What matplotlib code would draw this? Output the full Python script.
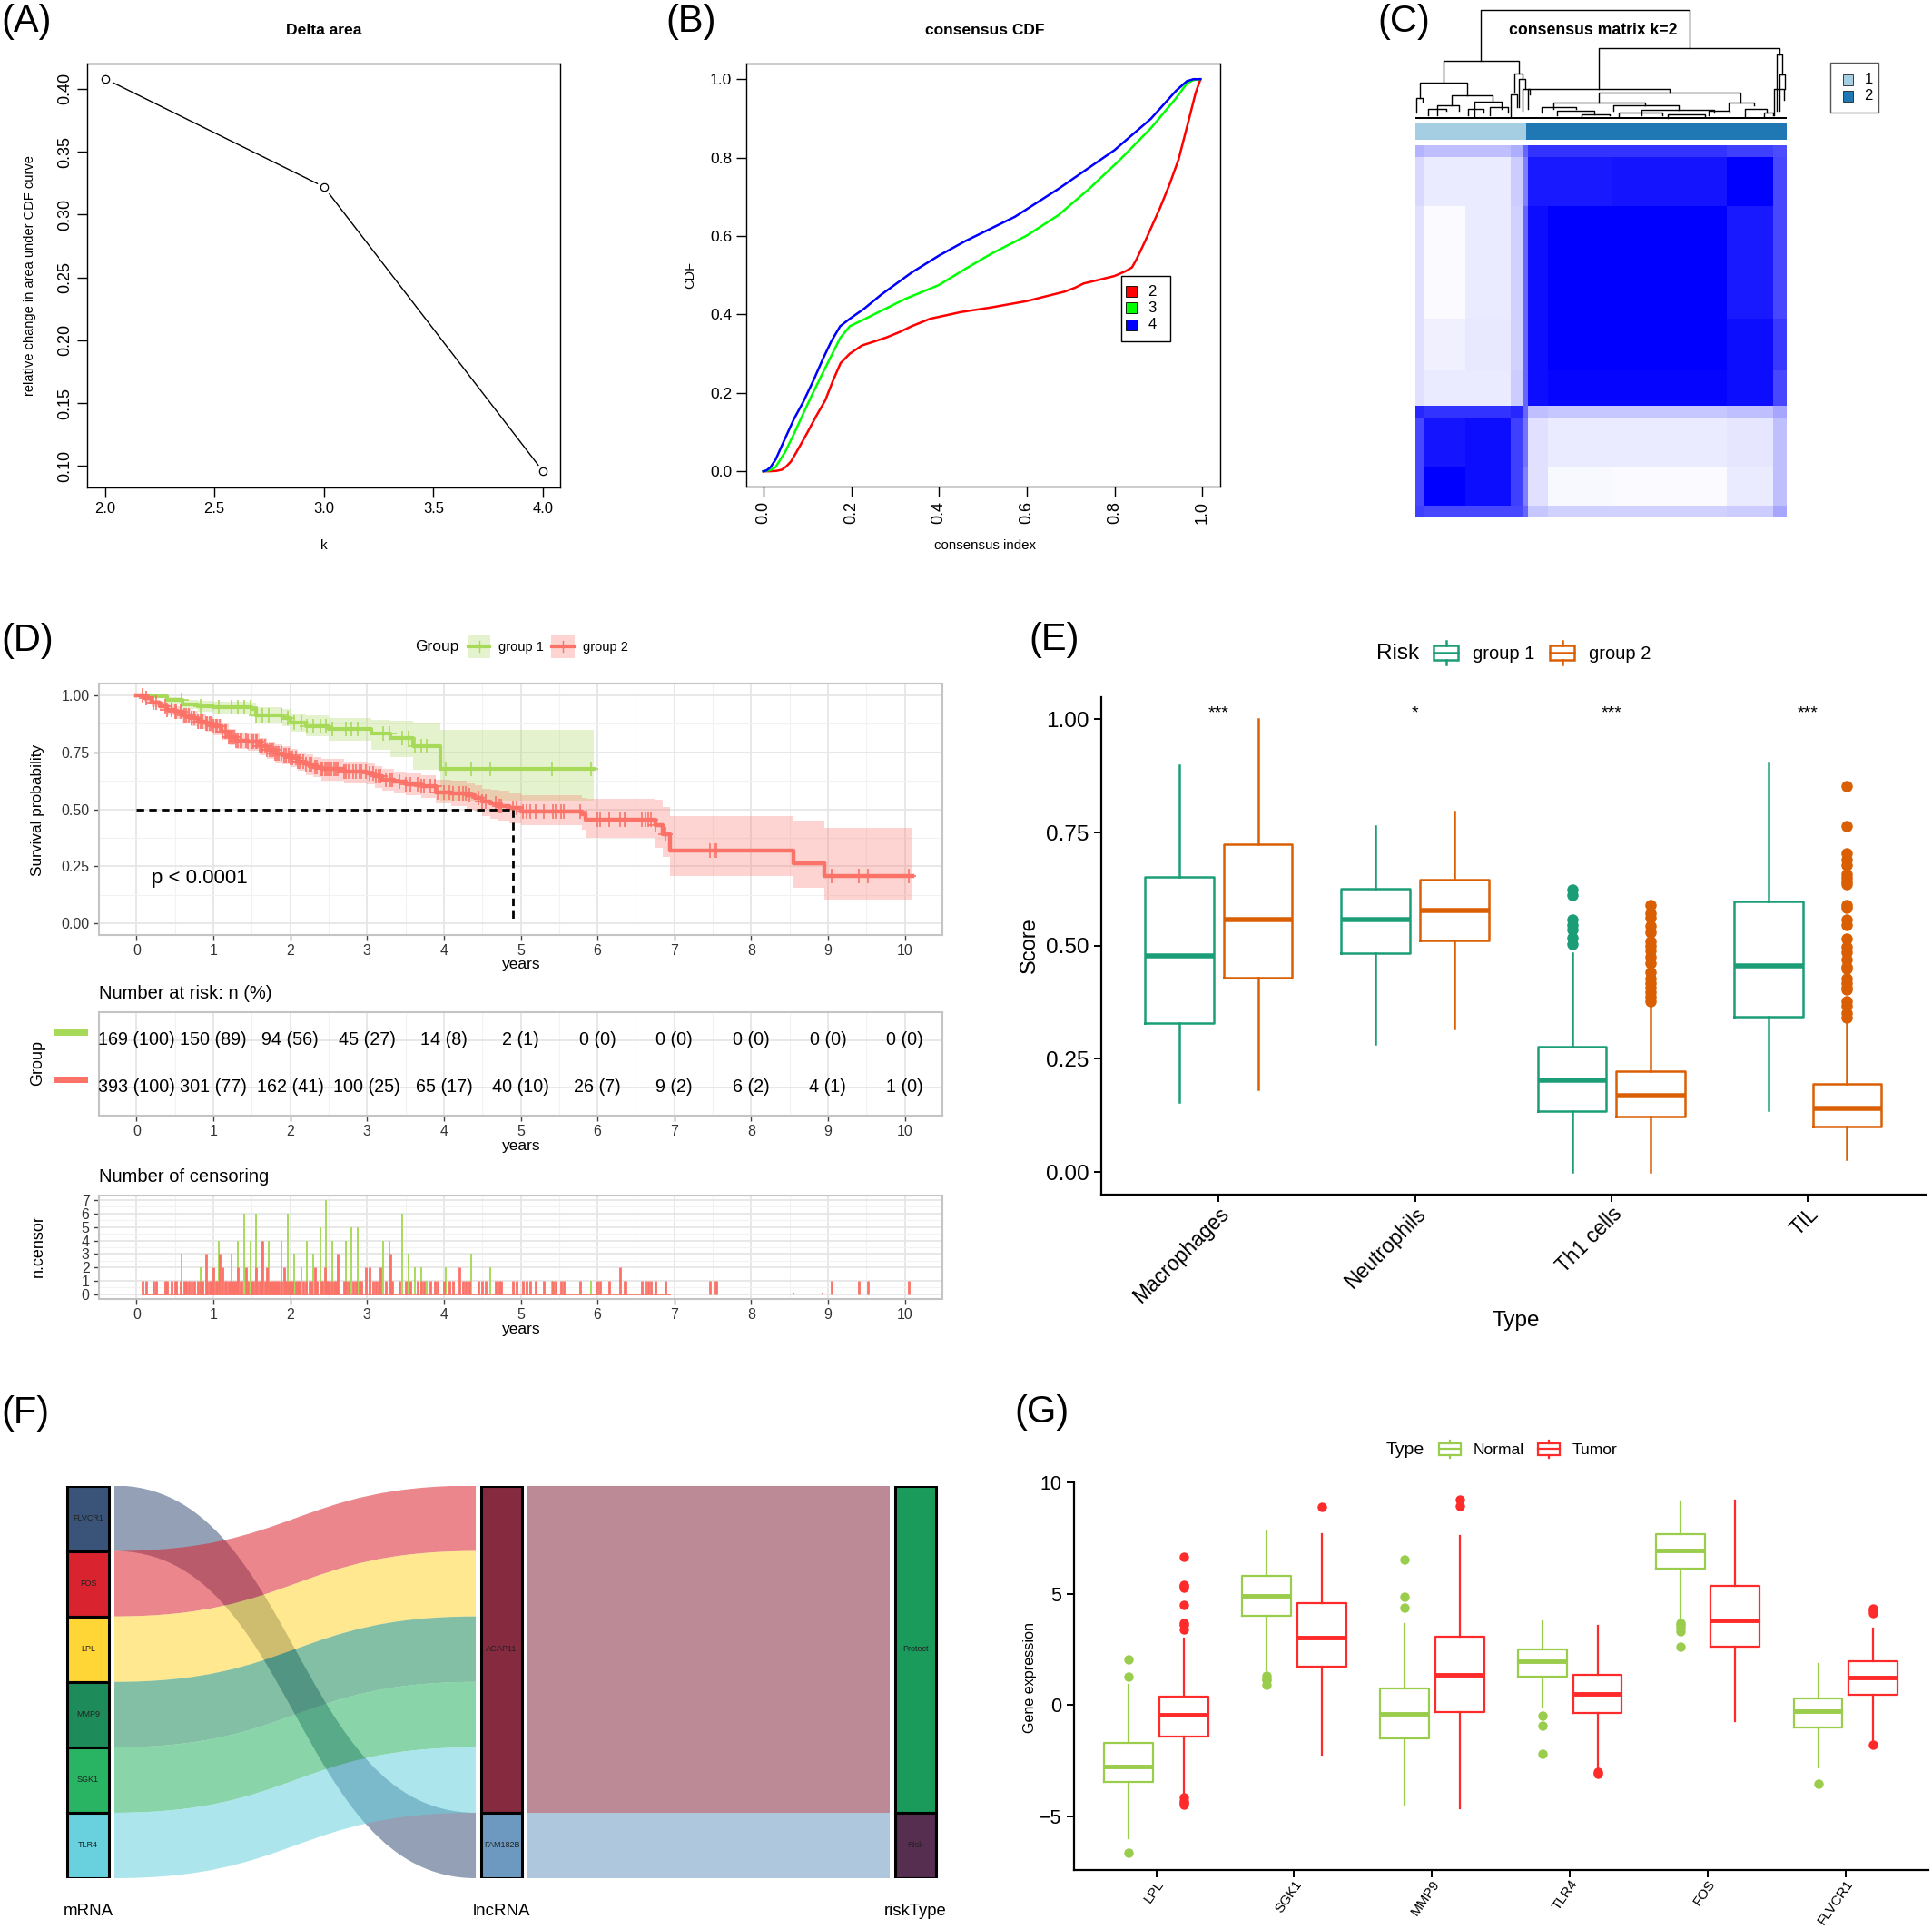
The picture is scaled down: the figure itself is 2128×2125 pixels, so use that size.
import numpy as np
import matplotlib
matplotlib.use("Agg")
import matplotlib.pyplot as plt
from matplotlib.colors import LinearSegmentedColormap
from matplotlib.path import Path
from matplotlib.patches import PathPatch, Rectangle

W, H = 2128, 2125
plt.rcParams["font.family"] = ["Liberation Sans"]

# (A) delta area
k_vals = [2, 3, 4]
delta_vals = [0.408, 0.322, 0.096]

# (B) consensus CDF
cdf_x2 = [0.0, 0.014, 0.03, 0.042, 0.052, 0.063, 0.08, 0.099, 0.12, 0.141, 0.16, 0.176, 0.197, 0.225, 0.25, 0.282, 0.31, 0.338, 0.38, 0.45, 0.52, 0.6, 0.686, 0.71, 0.73, 0.76, 0.8, 0.825, 0.84, 0.85, 0.87, 0.904, 0.925, 0.946, 0.968, 0.985, 0.996]
cdf_y2 = [0.0, 0.0, 0.001, 0.004, 0.012, 0.025, 0.058, 0.096, 0.14, 0.181, 0.235, 0.276, 0.30, 0.321, 0.33, 0.342, 0.355, 0.37, 0.389, 0.406, 0.418, 0.434, 0.458, 0.468, 0.479, 0.487, 0.498, 0.51, 0.52, 0.54, 0.587, 0.672, 0.73, 0.795, 0.89, 0.965, 1.0]
cdf_x3 = [0.0, 0.007, 0.016, 0.028, 0.05, 0.07, 0.09, 0.113, 0.135, 0.155, 0.175, 0.197, 0.225, 0.27, 0.324, 0.4, 0.46, 0.518, 0.6, 0.672, 0.742, 0.813, 0.883, 0.94, 0.965, 0.98, 0.996]
cdf_y3 = [0.0, 0.001, 0.003, 0.011, 0.05, 0.096, 0.145, 0.2, 0.25, 0.295, 0.34, 0.37, 0.385, 0.41, 0.44, 0.475, 0.516, 0.554, 0.601, 0.653, 0.72, 0.795, 0.875, 0.951, 0.989, 0.998, 1.0]
cdf_x4 = [0.0, 0.007, 0.016, 0.028, 0.05, 0.07, 0.09, 0.113, 0.135, 0.155, 0.175, 0.197, 0.23, 0.268, 0.338, 0.4, 0.46, 0.573, 0.672, 0.8, 0.883, 0.94, 0.965, 0.98, 0.996]
cdf_y4 = [0.0, 0.002, 0.01, 0.03, 0.085, 0.134, 0.175, 0.229, 0.285, 0.332, 0.37, 0.389, 0.415, 0.45, 0.507, 0.55, 0.587, 0.649, 0.72, 0.819, 0.899, 0.97, 0.995, 1.0, 1.0]

# (C) consensus matrix, blocks of samples
block_cols = [16, 65, 75, 20, 7, 33, 105, 185, 75, 22]
block_rows = [32, 130, 305, 140, 95, 35, 130, 105, 28]
block_vals = [
    [.30, .25, .25, .32, .60, .80, .80, .80, .75, .70],
    [.15, .08, .08, .20, .50, .90, .90, .92, 1.0, .72],
    [.12, .02, .08, .18, .60, .95, 1.0, 1.0, .90, .72],
    [.12, .06, .09, .18, .60, .95, 1.0, 1.0, .95, .78],
    [.12, .08, .08, .20, .60, .95, .98, .98, .95, .72],
    [.85, .80, .80, .85, .60, .25, .22, .22, .25, .35],
    [.72, .92, .95, .75, .55, .12, .08, .08, .10, .25],
    [.72, 1.0, .95, .75, .50, .12, .03, .02, .08, .25],
    [.75, .72, .72, .72, .60, .22, .18, .18, .20, .35],
]
cluster_sizes = [181, 422]
# left, right, height, left child height, right child height
dendro_links = [
    (836, 1174, 28, 163, 130), (775, 897, 163, 222, 198), (737, 814, 222, 265, 258),
    (789, 855, 258, 285, 275), (1028, 1320, 130, 240, 148), (913, 1143, 240, 295, 250),
    (1028, 1258, 250, 278, 278), (953, 1103, 278, 295, 285), (1238, 1280, 278, 296, 285),
    (1051, 1157, 285, 300, 297), (1097, 1215, 297, 310, 303), (935, 990, 290, 305, 295),
    (890, 903, 198, 250, 212), (898, 908, 212, 290, 240), (904, 915, 240, 300, 255),
    (1316, 1325, 148, 300, 200), (1320, 1330, 200, 300, 240), (1312, 1328, 240, 310, 270),
    (731, 742, 265, 305, 275), (750, 780, 295, 310, 300), (765, 800, 285, 310, 300),
    (815, 840, 295, 310, 305), (825, 870, 275, 315, 295), (850, 880, 290, 312, 305),
    (885, 895, 255, 315, 290), (1205, 1240, 300, 312, 305), (1265, 1300, 295, 315, 305),
    (1295, 1310, 305, 316, 310), (960, 1020, 300, 312, 308), (1000, 1045, 308, 316, 312),
    (1060, 1130, 305, 316, 312), (1140, 1200, 308, 318, 314),
]

# (D) survival
km1_t = [0, 0.2, 0.4, 0.6, 0.8, 1.0, 1.5, 1.55, 1.9, 2.0, 2.2, 2.5, 3.05, 3.3, 3.6, 3.95, 5.95]
km1_s = [1, 0.995, 0.98, 0.96, 0.95, 0.945, 0.94, 0.91, 0.90, 0.88, 0.865, 0.85, 0.83, 0.81, 0.775, 0.675, 0.675]
km1_hi = [1, 1, 0.99, 0.98, 0.975, 0.97, 0.965, 0.945, 0.94, 0.92, 0.91, 0.90, 0.89, 0.888, 0.878, 0.846, 0.846]
km1_lo = [1, 0.985, 0.96, 0.94, 0.925, 0.915, 0.905, 0.875, 0.865, 0.84, 0.82, 0.80, 0.76, 0.728, 0.674, 0.537, 0.537]
km2_t = [0, .1, .2, .3, .4, .5, .6, .7, .8, .9, 1, 1.1, 1.2, 1.3, 1.45, 1.6, 1.7, 1.8, 1.9, 2, 2.1, 2.2, 2.3, 2.4, 2.7, 3, 3.1, 3.2, 3.35, 3.5, 3.7, 3.9, 4.1, 4.3, 4.4, 4.5, 4.6, 4.7, 4.85, 5, 5.8, 5.85, 6.75, 6.85, 6.95, 8.55, 8.95, 10.1]
km2_s = [1, .985, .965, .95, .935, .925, .91, .90, .885, .875, .862, .84, .815, .80, .795, .775, .76, .745, .735, .725, .71, .695, .685, .675, .665, .655, .645, .63, .62, .61, .60, .575, .57, .56, .55, .535, .525, .515, .505, .49, .48, .455, .43, .39, .32, .265, .21, .21]
km2_hi = [1, .995, .98, .97, .96, .95, .94, .93, .915, .905, .895, .875, .85, .835, .83, .81, .795, .785, .775, .765, .75, .74, .73, .72, .71, .70, .69, .675, .665, .655, .65, .63, .625, .615, .605, .59, .585, .58, .57, .56, .55, .545, .54, .51, .47, .45, .42, .42]
km2_lo = [1, .97, .945, .93, .91, .895, .88, .865, .85, .84, .825, .805, .78, .765, .755, .735, .72, .705, .695, .685, .67, .65, .64, .625, .615, .61, .595, .58, .57, .56, .55, .525, .515, .50, .485, .47, .46, .45, .44, .43, .41, .375, .33, .29, .21, .155, .105, .105]
median_time = 4.9
risk_times = [0, 1, 2, 3, 4, 5, 6, 7, 8, 9, 10]
risk_group1 = ["169 (100)", "150 (89)", "94 (56)", "45 (27)", "14 (8)", "2 (1)", "0 (0)", "0 (0)", "0 (0)", "0 (0)", "0 (0)"]
risk_group2 = ["393 (100)", "301 (77)", "162 (41)", "100 (25)", "65 (17)", "40 (10)", "26 (7)", "9 (2)", "6 (2)", "4 (1)", "1 (0)"]

cens1_t = [0.58, 0.83, 1.07, 1.23, 1.32, 1.4, 1.48, 1.56, 1.64, 1.72, 1.89, 1.97, 2.05, 2.14, 2.22, 2.3, 2.39, 2.47, 2.55, 2.72, 2.8, 2.88, 3.21, 3.29, 3.46, 3.54, 3.62, 3.7, 3.78, 4.03, 4.36, 4.6, 5.41, 5.92]
cens1_n = [3, 2, 4, 3, 4, 6, 4, 6, 4, 4, 4, 6, 3, 2, 4, 3, 5, 7, 4, 4, 5, 5, 4, 4, 6, 3, 2, 2, 1, 2, 3, 2, 1, 1]
cens2_t = [0.08, 0.12, 0.22, 0.26, 0.37, 0.4, 0.45, 0.5, 0.52, 0.57, 0.62, 0.65, 0.68, 0.72, 0.75, 0.8, 0.83, 0.86, 0.9, 0.92, 0.95, 0.98, 1.0, 1.03, 1.05, 1.08, 1.12, 1.15, 1.17, 1.2, 1.22, 1.25, 1.27, 1.3, 1.32, 1.35, 1.37, 1.42, 1.45, 1.5, 1.52, 1.55, 1.57, 1.6, 1.62, 1.64, 1.67, 1.7, 1.73, 1.75, 1.78, 1.8, 1.83, 1.85, 1.88, 1.92, 1.95, 1.98, 2.0, 2.03, 2.07, 2.1, 2.12, 2.17, 2.2, 2.25, 2.28, 2.32, 2.35, 2.4, 2.42, 2.45, 2.48, 2.5, 2.53, 2.57, 2.6, 2.62, 2.7, 2.73, 2.76, 2.82, 2.85, 2.9, 2.93, 2.98, 3.03, 3.08, 3.12, 3.15, 3.17, 3.25, 3.3, 3.33, 3.42, 3.5, 3.56, 3.66, 3.7, 3.74, 3.82, 3.88, 3.92, 4.0, 4.07, 4.12, 4.2, 4.25, 4.28, 4.33, 4.45, 4.5, 4.55, 4.68, 4.72, 4.75, 4.9, 4.95, 5.03, 5.08, 5.13, 5.2, 5.3, 5.42, 5.46, 5.53, 5.56, 5.77, 6.0, 6.03, 6.15, 6.3, 6.35, 6.37, 6.58, 6.62, 6.66, 6.7, 6.75, 6.88, 7.47, 7.52, 7.55, 9.05, 9.4, 9.52, 10.05]
cens2_big = {0.9: 3, 1.0: 2, 1.08: 3, 1.12: 2, 1.32: 2, 1.42: 2, 1.55: 2, 1.64: 4, 1.7: 2, 1.92: 2, 2.32: 2, 2.45: 2, 2.62: 3, 2.98: 2, 3.03: 2, 3.17: 2, 3.3: 3, 4.2: 2, 6.3: 2}

# (E) score boxes
score_types = ["Macrophages", "Neutrophils", "Th1 cells", "TIL"]
score_sig = ["***", "*", "***", "***"]
# whisker low, q1, median, q3, whisker high
score_g1 = [[.155, .33, .477, .651, .898], [.283, .484, .557, .625, .764], [0, .135, .202, .276, .483], [.136, .343, .456, .597, .904]]
score_g2 = [[.182, .43, .557, .725, 1.0], [.316, .511, .578, .645, .797], [0, .122, .168, .222, .367], [.028, .101, .141, .195, .336]]
score_out1 = [[], [], [.624, .611, .557, .545, .535, .518, .504], []]
score_out2 = [[], [], [.377, .387, .398, .408, .418, .428, .441, .462, .476, .49, .5, .51, .53, .544, .561, .571, .589],
              [.853, .765, .704, .691, .678, .658, .65, .642, .635, .59, .583, .557, .545, .516, .497, .485, .47, .454, .449, .428, .418, .408, .403, .377, .367, .351, .341]]

# (F) alluvial
mrna_names = ["FLVCR1", "FOS", "LPL", "MMP9", "SGK1", "TLR4"]
mrna_colors = ["#3A5378", "#D9232E", "#FFD635", "#1E8C5A", "#28B463", "#68D1DD"]
mrna_lnc = ["FAM182B", "AGAP11", "AGAP11", "AGAP11", "AGAP11", "AGAP11"]
lnc_names = ["AGAP11", "FAM182B"]
lnc_colors = ["#862A40", "#6D99C0"]
risk_names = ["Protect", "Risk"]
risk_colors = ["#1A9B5B", "#552E50"]

# (G) gene expression boxes
genes = ["LPL", "SGK1", "MMP9", "TLR4", "FOS", "FLVCR1"]
gene_normal = [[-6.01, -3.47, -2.77, -1.71, .89], [1.56, 3.99, 4.89, 5.79, 7.79], [-4.5, -1.5, -.42, .76, 3.64], [-.09, 1.29, 1.96, 2.49, 3.77], [3.8, 6.11, 6.96, 7.69, 9.16], [-2.8, -1.0, -.26, .28, 1.85]]
gene_tumor = [[-4.05, -1.43, -.44, .37, 2.99], [-2.24, 1.71, 3.04, 4.56, 7.66], [-4.63, -.31, 1.37, 3.07, 7.6], [-2.82, -.36, .48, 1.37, 3.54], [-.72, 2.6, 3.82, 5.36, 9.19], [-1.6, .47, 1.25, 1.95, 3.43]]
gene_out_n = [[-6.65, 1.26, 2.06], [1.31, 1.2, 1.09, .89], [4.39, 4.86, 6.54], [-.47, -.93, -2.18], [3.69, 3.58, 3.46, 3.3, 2.62], [-3.54]]
gene_out_t = [[6.65, 5.4, 5.33, 5.28, 4.49, 3.69, 3.58, 3.38, -4.17, -4.3, -4.41, -4.49], [8.88], [8.94, 9.24], [-3.0, -3.08], [], [-1.78, 4.31, 4.24, 4.14]]

GREEN_KM = "#A8DA5A"
RED_KM = "#FB7268"
TEAL = "#1B9E77"
ORANGE = "#D95F02"
G_GREEN = "#9ACD4C"
G_RED = "#FF2A2A"

fig = plt.figure(figsize=(W / 100, H / 100), dpi=100)


def px_axes(x0, y0, x1, y1):
    return fig.add_axes([x0 / W, 1 - y1 / H, (x1 - x0) / W, (y1 - y0) / H])


# overlay in pixels for legends and free text
over = fig.add_axes([0, 0, 1, 1], zorder=20)
over.set_xlim(0, W)
over.set_ylim(H, 0)
over.axis("off")
over.patch.set_alpha(0)


def label(x, y, s, size=14, ha="center", rot=0, weight="normal"):
    over.text(x, y, s, fontsize=size, ha=ha, va="center", rotation=rot, fontweight=weight)


for s, x, y in [("(A)", 1, 24), ("(B)", 733, 24), ("(C)", 1517, 24), ("(D)", 1, 706), ("(E)", 1133, 705), ("(F)", 1, 1557), ("(G)", 1117, 1556)]:
    label(x, y, s, size=30, ha="left")


def r_style(ax):
    for sp in ax.spines.values():
        sp.set_linewidth(1.0)
    ax.tick_params(length=8, width=1.0)


# ---- A
ax = px_axes(96, 70, 617, 537)
ax.plot(k_vals, delta_vals, color="black", lw=1.0)
ax.plot(k_vals, delta_vals, "o", ms=11, mfc="white", mec="white")
ax.plot(k_vals, delta_vals, "o", ms=6, mfc="white", mec="black", mew=0.9)
ax.set_xlim(1.919, 4.079)
ax.set_ylim(0.083, 0.42)
ax.set_xticks([2, 2.5, 3, 3.5, 4])
ax.set_xticklabels(["2.0", "2.5", "3.0", "3.5", "4.0"], fontsize=12)
ax.set_yticks([.1, .15, .2, .25, .3, .35, .4])
ax.set_yticklabels(["0.10", "0.15", "0.20", "0.25", "0.30", "0.35", "0.40"], rotation=90, va="center", fontsize=13)
r_style(ax)
label(357, 34, "Delta area", size=12.6, weight="bold")
label(357, 601, "k", size=11)
label(33, 304, "relative change in area under CDF curve", size=10.5, rot=90)

# ---- B
ax = px_axes(822, 69.5, 1344, 536)
ax.plot(cdf_x2, cdf_y2, color="#FF0000", lw=1.8)
ax.plot(cdf_x3, cdf_y3, color="#00FF00", lw=1.8)
ax.plot(cdf_x4, cdf_y4, color="#0000FF", lw=1.8)
ax.set_xlim(-.039, 1.041)
ax.set_ylim(-.039, 1.041)
ax.set_xticks([0, .2, .4, .6, .8, 1])
ax.set_xticklabels(["0.0", "0.2", "0.4", "0.6", "0.8", "1.0"], rotation=90, fontsize=13)
ax.set_yticks([0, .2, .4, .6, .8, 1])
ax.set_yticklabels(["0.0", "0.2", "0.4", "0.6", "0.8", "1.0"], fontsize=12.5)
r_style(ax)
label(1085, 34, "consensus CDF", size=12.5, weight="bold")
label(1085, 601, "consensus index", size=10.8)
label(760, 303, "CDF", size=10.5, rot=90)
over.add_patch(Rectangle((1235, 304), 54, 72, fc="white", ec="black", lw=1))
for yy, cc, tt in [(321, "#FF0000", "2"), (339, "#00FF00", "3"), (357.5, "#0000FF", "4")]:
    over.add_patch(Rectangle((1240, yy - 6), 12, 12, fc=cc, ec="black", lw=0.6))
    label(1269, yy, tt, size=12)

# ---- C
blue_map = LinearSegmentedColormap.from_list("cons", ["white", "#0000FF"])
ax = px_axes(1558.6, 160.4, 1967.7, 568.6)
ax.pcolormesh(np.r_[0, np.cumsum(block_cols)], np.r_[0, np.cumsum(block_rows)], np.array(block_vals), cmap=blue_map, vmin=0, vmax=1)
ax.set_ylim(sum(block_rows), 0)
ax.axis("off")

ax = px_axes(1558.6, 136, 1967.7, 153.5)
left = 0
for size, col in zip(cluster_sizes, ["#A6CEE3", "#1F78B4"]):
    ax.barh(0, size, left=left, height=1, color=col)
    left += size
ax.set_xlim(0, sum(cluster_sizes))
ax.set_ylim(-.5, .5)
ax.axis("off")

ax = px_axes(1558.6, 11.4, 1967.7, 131)
for xl, xr, h, yl, yr in dendro_links:
    ax.plot([xl, xl, xr, xr], [yl, h, h, yr], color="black", lw=1.0, clip_on=False)
ax.fill_between([729, 1332], 316, 321, color="black", lw=0)
ax.set_xlim(729, 1332)
ax.set_ylim(321, 28)
ax.axis("off")
label(1755, 34, "consensus matrix k=2", size=12.7, weight="bold")
over.add_patch(Rectangle((2016, 69), 53, 55, fc="white", ec="#555555", lw=1))
for yy, cc, tt in [(88, "#A6CEE3", "1"), (106, "#1F78B4", "2")]:
    over.add_patch(Rectangle((2029.5, yy - 6), 11.5, 12, fc=cc, ec="#222222", lw=0.6))
    label(2058, yy, tt, size=12)


# ---- D
def km_theme(ax):
    ax.set_axisbelow(True)
    ax.set_xlim(-.49, 10.49)
    ax.set_xticks(risk_times)
    ax.set_xticks(np.array(risk_times[:-1]) + .5, minor=True)
    ax.grid(True, which="major", color="#E6E6E6", lw=1.3)
    ax.grid(True, which="minor", color="#F2F2F2", lw=0.8)
    ax.tick_params(which="minor", length=0)
    ax.tick_params(which="major", length=4, width=1, color="#444444", labelsize=11.5, labelcolor="#333333")
    for sp in ax.spines.values():
        sp.set_color("#C4C4C4")
        sp.set_linewidth(1.5)


def surv_at(times, t_arr, s_arr):
    idx = np.searchsorted(t_arr, times, side="right") - 1
    return np.array(s_arr)[idx]


ax = px_axes(109, 753, 1038, 1030)
km_theme(ax)
ax.fill_between(km1_t, km1_lo, km1_hi, step="post", color=GREEN_KM, alpha=.3, lw=0)
ax.fill_between(km2_t, km2_lo, km2_hi, step="post", color=RED_KM, alpha=.3, lw=0)
ax.step(km1_t, km1_s, where="post", color=GREEN_KM, lw=3)
ax.step(km2_t, km2_s, where="post", color=RED_KM, lw=3.2)
ax.plot(cens1_t, surv_at(cens1_t, km1_t, km1_s), "+", color=GREEN_KM, ms=11, mew=1.2)
ax.plot(cens2_t, surv_at(cens2_t, km2_t, km2_s), "+", color=RED_KM, ms=11, mew=1.2)
ax.plot([0, median_time], [.5, .5], color="black", lw=2, ls=(0, (3, 2)))
ax.plot([median_time, median_time], [.5, 0], color="black", lw=2, ls=(0, (3, 2)))
ax.set_ylim(-.05, 1.05)
ax.set_yticks([0, .25, .5, .75, 1])
ax.set_yticks([.125, .375, .625, .875], minor=True)
ax.set_yticklabels(["0.00", "0.25", "0.50", "0.75", "1.00"])
ax.text(.2, .2, "p < 0.0001", fontsize=16, va="center")
label(42, 892, "Survival probability", size=12.4, rot=90)
label(574, 1062, "years", size=12.5)

label(481, 713, "Group", size=12.5)
over.add_patch(Rectangle((515, 699), 25, 26, fc=GREEN_KM, alpha=.3, ec="none"))
over.plot([516, 539], [712, 712], color=GREEN_KM, lw=3)
over.plot([527.5, 527.5], [706, 718], color=GREEN_KM, lw=1)
label(549, 713, "group 1", size=10.5, ha="left")
over.add_patch(Rectangle((607, 699), 26, 26, fc=RED_KM, alpha=.3, ec="none"))
over.plot([608, 632], [712, 712], color=RED_KM, lw=3)
over.plot([620, 620], [706, 718], color=RED_KM, lw=1)
label(642, 713, "group 2", size=10.5, ha="left")

# risk table
ax = px_axes(109, 1115, 1038, 1228.5)
km_theme(ax)
ax.set_ylim(.413, 2.596)
ax.set_yticks([1, 2])
ax.set_yticklabels(["", ""])
ax.tick_params(axis="y", length=0)
for t, a, b in zip(risk_times, risk_group1, risk_group2):
    ax.text(t, 2, a, ha="center", va="center", fontsize=14.2)
    ax.text(t, 1, b, ha="center", va="center", fontsize=14.2)
label(109, 1095, "Number at risk: n (%)", size=14.5, ha="left")
label(574, 1262, "years", size=12.5)
label(42, 1171, "Group", size=13, rot=90)
over.add_patch(Rectangle((60, 1134), 37, 7, fc=GREEN_KM, ec="none"))
over.add_patch(Rectangle((60, 1186), 37, 7, fc=RED_KM, ec="none"))

# censoring
ax = px_axes(109, 1317, 1038, 1430.5)
km_theme(ax)
cens2_n = [cens2_big.get(t, 1) for t in cens2_t]
ax.vlines(cens1_t, 0, cens1_n, color=GREEN_KM, lw=1.4)
ax.vlines(cens2_t, 0, cens2_n, color=RED_KM, lw=2.0)
ax.plot([.08, 6.95], [0, 0], color=RED_KM, lw=1.2)
ax.vlines([8.55, 8.93], 0, .1, color=RED_KM, lw=1.5)
ax.set_ylim(-.317, 7.34)
ax.set_yticks(range(8))
ax.set_yticks(np.arange(7) + .5, minor=True)
label(109, 1297, "Number of censoring", size=14.5, ha="left")
label(574, 1464, "years", size=12.5)
label(42, 1373, "n.censor", size=13, rot=90)


# ---- boxes for E and G
def box_stats(rows, outliers):
    stats = []
    for r, o in zip(rows, outliers):
        stats.append(dict(whislo=r[0], q1=r[1], med=r[2], q3=r[3], whishi=r[4], fliers=o))
    return stats


def draw_boxes(ax, rows, outliers, positions, width, color, lw, ms):
    ax.bxp(box_stats(rows, outliers), positions=positions, widths=width, showcaps=False,
           manage_ticks=False,
           boxprops=dict(color=color, lw=lw), whiskerprops=dict(color=color, lw=lw),
           medianprops=dict(color=color, lw=lw * 2.2, solid_capstyle="butt"),
           flierprops=dict(marker="o", mfc=color, mec=color, ms=ms, mew=0))


def classic(ax):
    ax.spines["top"].set_visible(False)
    ax.spines["right"].set_visible(False)
    ax.spines["left"].set_linewidth(1.6)
    ax.spines["bottom"].set_linewidth(1.6)
    ax.tick_params(length=6, width=1.4)


ax = px_axes(1212.5, 768, 2121, 1316)
pos = np.arange(len(score_types))
draw_boxes(ax, score_g1, score_out1, pos - .2, .35, TEAL, 1.8, 9)
draw_boxes(ax, score_g2, score_out2, pos + .2, .35, ORANGE, 1.8, 9)
ax.set_xlim(-.6, 3.6)
ax.set_ylim(-.05, 1.049)
ax.set_xticks(pos)
ax.set_xticklabels(score_types, rotation=45, ha="right", rotation_mode="anchor", fontsize=16.5)
ax.set_yticks([0, .25, .5, .75, 1])
ax.set_yticklabels(["0.00", "0.25", "0.50", "0.75", "1.00"], fontsize=17.5)
classic(ax)
ax.tick_params(axis="x", pad=1)
for p, s in zip(pos, score_sig):
    ax.text(p, 1.012, s, ha="center", va="center", fontsize=14)
label(1670, 1455, "Type", size=17.5)
label(1134, 1041, "Score", size=17, rot=90)
label(1540, 720, "Risk", size=17.5)
for x0, cc, name, tx in [(1579, TEAL, "group 1", 1622), (1707, ORANGE, "group 2", 1750)]:
    over.add_patch(Rectangle((x0, 711), 27, 16, fc="white", ec=cc, lw=1.8))
    over.plot([x0, x0 + 27], [719, 719], color=cc, lw=1.8)
    over.plot([x0 + 13.5, x0 + 13.5], [706, 711], color=cc, lw=1.8)
    over.plot([x0 + 13.5, x0 + 13.5], [727, 732], color=cc, lw=1.8)
    label(tx, 720, name, size=14.5, ha="left")


# ---- F
def flow(ax, x0, x1, y0, y1, color):
    xm = (x0 + x1) / 2
    verts = [(x0, y0), (xm, y0), (xm, y1), (x1, y1), (x1, y1 + 1), (xm, y1 + 1), (xm, y0 + 1), (x0, y0 + 1), (x0, y0)]
    codes = [Path.MOVETO, Path.CURVE4, Path.CURVE4, Path.CURVE4, Path.LINETO, Path.CURVE4, Path.CURVE4, Path.CURVE4, Path.CLOSEPOLY]
    ax.add_patch(PathPatch(Path(verts, codes), fc=color, ec="none", alpha=.55))


def stratum(ax, cx, y0, h, color, name):
    ax.add_patch(Rectangle((cx - .0495, y0), .099, h, fc=color, ec="black", lw=2.2))
    ax.text(cx, y0 + h / 2, name, ha="center", va="center", fontsize=6.5, color="#222222")


ax = px_axes(60, 1636.5, 1046, 2069)
ax.set_xlim(-.0812, 2.083)
ax.set_ylim(len(mrna_names), 0)
ax.axis("off")

lnc_size = [mrna_lnc.count(n) for n in lnc_names]
lnc_top = [0, lnc_size[0]]
lnc_next = list(lnc_top)
for i, (gene, col, target) in enumerate(zip(mrna_names, mrna_colors, mrna_lnc)):
    j = lnc_names.index(target)
    flow(ax, .0637, .9374, i, lnc_next[j], col)
    lnc_next[j] += 1
    stratum(ax, 0, i, 1, col, gene)
for j, name in enumerate(lnc_names):
    ax.add_patch(Rectangle((1.0623, lnc_top[j]), .8762, lnc_size[j], fc=lnc_colors[j], ec="none", alpha=.55))
    stratum(ax, 1, lnc_top[j], lnc_size[j], lnc_colors[j], name)
    stratum(ax, 2, lnc_top[j], lnc_size[j], risk_colors[j], risk_names[j])
label(97, 2105, "mRNA", size=13.5)
label(553, 2105, "lncRNA", size=13.5)
label(1008, 2105, "riskType", size=13.3)

# ---- G
ax = px_axes(1182.7, 1633, 2124, 2059.8)
pos = np.arange(len(genes))
draw_boxes(ax, gene_normal, gene_out_n, pos - .2, .355, G_GREEN, 1.6, 7.5)
draw_boxes(ax, gene_tumor, gene_out_t, pos + .2, .355, G_RED, 1.6, 7.5)
ax.set_xlim(-.598, 5.6)
ax.set_ylim(-7.41, 10)
ax.set_xticks(pos)
ax.set_xticklabels(genes, rotation=55, ha="right", rotation_mode="anchor", fontsize=11)
ax.set_yticks([-5, 0, 5, 10])
ax.set_yticklabels(["\u22125", "0", "5", "10"], fontsize=15.5)
classic(ax)
ax.tick_params(axis="x", pad=0)
label(1135, 1848, "Gene expression", size=11.6, rot=90)
label(1548, 1597, "Type", size=14)
for x0, cc, name, tx in [(1585, G_GREEN, "Normal", 1623), (1694, G_RED, "Tumor", 1732)]:
    over.add_patch(Rectangle((x0, 1590), 24, 12.5, fc="white", ec=cc, lw=1.6))
    over.plot([x0, x0 + 24], [1596, 1596], color=cc, lw=1.6)
    over.plot([x0 + 12, x0 + 12], [1586.5, 1590], color=cc, lw=1.6)
    over.plot([x0 + 12, x0 + 12], [1602.5, 1605.6], color=cc, lw=1.6)
    label(tx, 1597, name, size=12.5, ha="left")

fig.savefig("out.png", dpi=100)
